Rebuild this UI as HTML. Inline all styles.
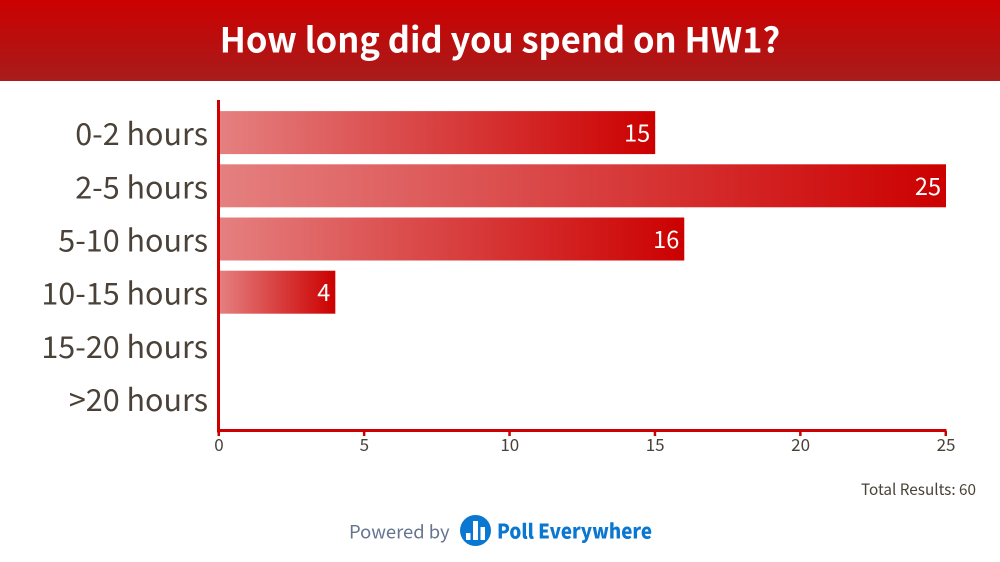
<!DOCTYPE html>
<html lang="en">
<head>
<meta charset="utf-8">
<title>How long did you spend on HW1?</title>
<style>
html,body{margin:0;padding:0;background:#fff;width:1000px;height:562px;overflow:hidden}
svg{display:block}
text{font-family:"Noto Sans CJK JP","Liberation Sans",sans-serif}
</style>
</head>
<body>
<svg id="chart" width="1000" height="562" viewBox="0 0 1000 562" xmlns="http://www.w3.org/2000/svg">
  <defs>
    <linearGradient id="header-gradient" x1="0" y1="0" x2="0" y2="1">
      <stop offset="0" stop-color="#cc0000"/>
      <stop offset="1" stop-color="#a81c1c"/>
    </linearGradient>
    <linearGradient id="bar-gradient" x1="0" y1="0" x2="1" y2="0">
      <stop offset="0" stop-color="#e58080"/>
      <stop offset="1" stop-color="#cc0000"/>
    </linearGradient>
  </defs>
  <rect x="0" y="0" width="1000" height="81" fill="url(#header-gradient)"/>
  <text x="500" y="52.500" text-anchor="middle" font-size="34.500" font-weight="700" fill="#fff">How long did you spend on HW1?</text>
  <g id="bars"></g>
  <g id="axes"></g>
  <text x="976" y="495" text-anchor="end" font-size="15.300" fill="#4a4238">Total Results: 60</text>
  <text x="349" y="538.500" font-size="18.400" fill="#667490">Powered by</text>
  <g>
    <circle cx="475.500" cy="530.500" r="15.500" fill="#0a77d0"/>
    <rect x="466" y="533" width="4.500" height="7" fill="#fff"/>
    <rect x="473" y="521" width="5" height="19" fill="#fff"/>
    <rect x="480.500" y="527" width="4.500" height="13" fill="#fff"/>
    <text x="497" y="538.500" font-size="20" font-weight="900" fill="#0a77d0" textLength="155" lengthAdjust="spacingAndGlyphs">Poll Everywhere</text>
  </g>
</svg>
<script>
const categories = ['0-2 hours', '2-5 hours', '5-10 hours', '10-15 hours', '15-20 hours', '>20 hours'];
const seriesValues = [15, 25, 16, 4, 0, 0];
const tickLabels = [0, 5, 10, 15, 20, 25];
const axisMax = 25;

const NS = 'http://www.w3.org/2000/svg';
const plotLeft = 219;
const plotRight = 946;
const rowTop = 106;
const rowStep = 53.2;
const barHeight = 43;
const axisTop = 100;
const axisBottom = 431;

function xScale(v) {
  return plotLeft + (v / axisMax) * (plotRight - plotLeft);
}
function rowCenter(i) {
  return rowTop + rowStep * (i + 0.5);
}
function make(tag, attrs, parent) {
  const el = document.createElementNS(NS, tag);
  Object.keys(attrs).forEach(function (k) { el.setAttribute(k, attrs[k]); });
  parent.appendChild(el);
  return el;
}

const barsLayer = document.getElementById('bars');
const axesLayer = document.getElementById('axes');

categories.forEach(function (cat, i) {
  const cy = rowCenter(i);
  const label = make('text', {
    x: 208, y: cy + 12.5, 'text-anchor': 'end', 'font-size': 30.5, fill: '#4a4238'
  }, barsLayer);
  
  
  label.textContent = cat;

  const value = seriesValues[i];
  if (value > 0) {
    const bar = make('rect', {
      x: plotLeft, y: cy - barHeight / 2, width: xScale(value) - plotLeft,
      height: barHeight, fill: 'url(#bar-gradient)'
    }, barsLayer);
    
    

    const valueLabel = make('text', {
      x: xScale(value) - 5, y: cy + 9, 'text-anchor': 'end', 'font-size': 23.5, fill: '#fff'
    }, barsLayer);
    
    
    valueLabel.textContent = value;
  }
});

const yAxis = make('rect', {
  x: plotLeft - 2, y: axisTop, width: 3, height: axisBottom + 1.5 - axisTop, fill: '#cc0000'
}, axesLayer);



const xAxis = make('rect', {
  x: plotLeft - 2, y: axisBottom - 2, width: plotRight - plotLeft + 2.5, height: 3, fill: '#cc0000'
}, axesLayer);



tickLabels.forEach(function (t) {
  const x = xScale(t);
  const tick = make('rect', {
    x: x - 1.5, y: axisBottom, width: 2.5, height: 5, fill: '#cc0000'
  }, axesLayer);
  
  

  const tickText = make('text', {
    x: x, y: 451, 'text-anchor': 'middle', 'font-size': 17, fill: '#4a4238'
  }, axesLayer);
  
  
  tickText.textContent = t;
});
</script>
</body>
</html>
